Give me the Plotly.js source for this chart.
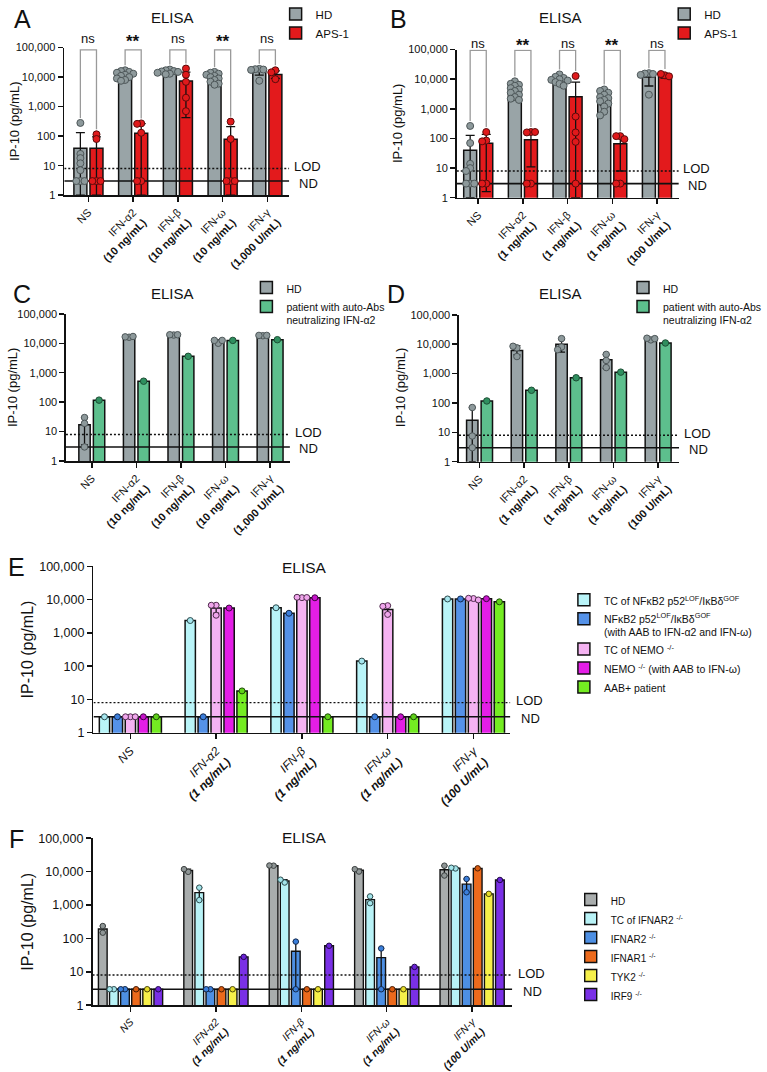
<!DOCTYPE html>
<html><head><meta charset="utf-8">
<script src="https://cdn.plot.ly/plotly-3.0.1.min.js"></script>
<style>html,body{margin:0;padding:0;background:#fff}#chart{width:767px;height:1072px}</style>
</head><body><div id="chart"></div>
<script>
const FONT = '"Liberation Sans", Arial, Helvetica, sans-serif';
const W = 767, H = 1072;
const LOD = 8, ND = 3;
const YTICKS = [1, 10, 100, 1000, 10000, 100000];
const YTICKTEXT = ['1', '10', '100', '1,000', '10,000', '100,000'];
const CATS = ['NS', 'IFN-α2', 'IFN-β', 'IFN-ω', 'IFN-γ'];
const DOSE_HIGH = ['', '(10 ng/mL)', '(10 ng/mL)', '(10 ng/mL)', '(1,000 U/mL)'];
const DOSE_LOW = ['', '(1 ng/mL)', '(1 ng/mL)', '(1 ng/mL)', '(100 U/mL)'];

// ---------- Panel A (10 ng/mL) ----------
const seriesA = ['HD', 'APS-1'];
const hdBarA = [39, 11000, 14700, 9500, 15900];
const hdHiA = [131, 14500, 16500, 12000, 19000];
const hdLoA = [1, 8500, 13000, 7500, 11700];
const hdPtsA = [
  [280, 25, 18, 12, 7, 3, 3, 3],
  [17000, 16000, 15000, 14000, 13000, 12000, 11000, 10000, 9000, 8000, 7500],
  [18000, 17000, 16000, 15500, 15000, 14000, 13000, 12500],
  [15000, 14000, 13000, 12000, 11000, 10000, 9000, 8000, 7000, 6000, 5500],
  [19000, 18500, 18000, 17500, 7500]
];
const apsBarA = [39, 124, 7300, 78, 12300];
const apsHiA = [95, 265, 14700, 210, 16300];
const apsLoA = [1, 1, 420, 1, 9000];
const apsPtsA = [
  [115, 80, 3, 3, 3],
  [270, 260, 130, 3, 3],
  [19500, 12000, 6900, 2000, 700],
  [310, 80, 3, 3, 3],
  [17000, 14500, 8500]
];
const sigA = ['ns', '**', 'ns', '**', 'ns'];

// ---------- Panel B (1 ng/mL) ----------
const hdBarB = [40, 4000, 9400, 2200, 11800];
const hdHiB = [128, 6500, 12000, 3700, 15500];
const hdLoB = [1, 2600, 7000, 1300, 5900];
const hdPtsB = [
  [265, 70, 14, 10, 8, 3, 3, 3],
  [8500, 7000, 6500, 6000, 5000, 4500, 4000, 3500, 3000, 2500, 2200, 2000],
  [14500, 12000, 11000, 10000, 9500, 9000, 8000, 7000, 6000],
  [4500, 4000, 3500, 3000, 2500, 2300, 2000, 1800, 1500, 1200, 800, 600],
  [16000, 15500, 15000, 14000, 3000]
];
const apsBarB = [69, 90, 2570, 67, 12000];
const apsHiB = [138, 166, 8000, 115, 14500];
const apsLoB = [1.6, 11, 1, 8, 11000];
const apsPtsB = [
  [165, 85, 80, 3, 3],
  [165, 160, 165, 3, 3],
  [12800, 550, 160, 77, 3],
  [120, 120, 95, 3, 3],
  [13500, 15000, 12500]
];
const sigB = ['ns', '**', 'ns', '**', 'ns'];

// ---------- Panel C (10 ng/mL) ----------
const seriesC = ['HD', 'patient with auto-Abs<br>neutralizing IFN-α2'];
const hdBarC = [17, 16500, 19500, 12000, 18600];
const hdHiC = [30, 17000, 19800, 13000, 19000];
const hdLoC = [3.5, 16000, 19200, 10500, 18200];
const hdPtsC = [[30, 19, 3], [16000, 16500, 17000], [19000, 19500, 19500], [10000, 12500, 12500], [18000, 18500, 18500]];
const patBarC = [117, 515, 3600, 12500, 13200];

// ---------- Panel D (1 ng/mL) ----------
const hdBarD = [26, 6100, 10000, 2950, 15100];
const hdHiD = [70, 8900, 14500, 4400, 16000];
const hdLoD = [1, 4300, 5400, 1500, 14200];
const hdPtsD = [[70, 7.5, 3], [7500, 8500, 3800], [15500, 8000, 6500], [4500, 2800, 1600], [14000, 16000, 15500]];
const patBarD = [117, 270, 720, 1120, 11000];

// ---------- Panel E ----------
const seriesE = [
  'TC of NFκB2 p52<sup>LOF</sup>/IκBδ<sup>GOF</sup>',
  'NFκB2 p52<sup>LOF</sup>/IκBδ<sup>GOF</sup><br>(with AAB to IFN-α2 and IFN-ω)',
  'TC of NEMO <sup>-/-</sup>',
  'NEMO <sup>-/-</sup> (with AAB to IFN-ω)',
  'AAB+ patient'
];
const tcNfkbE = [3, 2360, 5700, 142, 10500];
const nfkbE = [3, 3, 3900, 3, 10500];
const tcNemoE = [3, 5650, 11800, 5050, 10500];
const tcNemoPtsE = [[3, 3, 3], [6800, 6800, 3400], [11500, 11800, 11600], [6600, 6300, 3600], [10800, 11000, 9800]];
const tcNemoHiE = [3, 7000, 11900, 6800, 11200];
const tcNemoLoE = [3, 3900, 11300, 3900, 9900];
const nemoE = [3, 5600, 11400, 3, 10700];
const aabE = [3, 18, 3, 3, 8600];

// ---------- Panel F ----------
const seriesF = ['HD', 'TC of IFNAR2 <sup>-/-</sup>', 'IFNAR2 <sup>-/-</sup>', 'IFNAR1 <sup>-/-</sup>', 'TYK2 <sup>-/-</sup>', 'IRF9 <sup>-/-</sup>'];
const hdF = [190, 10800, 15000, 10900, 11300];
const hdPtsF = [[234, 148], [9800, 11800], [15000, 15200], [10000, 11800], [15000, 7600]];
const tcIfnar2F = [3, 2350, 5200, 1450, 12700];
const tcIfnar2PtsF = [[3, 3], [3300, 1400], [4700, 5700], [1800, 1130], [12400, 13000]];
const ifnar2F = [3, 3, 41, 26.5, 4200];
const ifnar2PtsF = [[3, 3], [3, 3], [80, 3], [50, 3], [6000, 2400]];
const ifnar1F = [3, 3, 3, 3, 12500];
const tyk2F = [3, 3, 3, 3, 2150];
const irf9F = [3, 28, 60, 14, 5600];

// ---------- builders ----------
const P = px => px / W;
const Q = py => 1 - py / H;
const traces = [];
const annotations = [];
const layout = {
  width: W, height: H, margin: {l: 0, r: 0, t: 0, b: 0},
  paper_bgcolor: '#ffffff', plot_bgcolor: 'rgba(0,0,0,0)',
  showlegend: true, barmode: 'overlay',
  font: {family: FONT, color: '#111'},
  annotations: annotations
};
function ticks(doses, italic) {
  return CATS.map((c, i) => {
    const a = italic ? '<i>' + c + '</i>' : c;
    if (!doses[i]) return a;
    const b = italic ? '<i>' + doses[i] + '</i>' : doses[i];
    return a + '<br><b>' + b + '</b>';
  });
}
function single(arr) { return arr.map(v => [v]); }
function rangeHi(pts) { return pts.map(a => Math.max(...a)); }
function rangeLo(pts) { return pts.map(a => Math.min(...a)); }
function txt(x, y, text, size, opts) {
  annotations.push(Object.assign({xref: 'paper', yref: 'paper', x: P(x), y: Q(y), text: text, showarrow: false,
    xanchor: 'center', yanchor: 'middle', font: {size: size, family: FONT, color: '#111'}}, opts || {}));
}

function panel(c) {
  const s = c.n === 1 ? '' : String(c.n);
  const xa = 'x' + s, ya = 'y' + s;
  const legendId = c.n === 1 ? 'legend' : 'legend' + c.n;
  const ppu = (c.xdom[1] - c.xdom[0]) / (c.xrange[1] - c.xrange[0]);
  const ppd = (c.ydom[1] - c.ydom[0]) / 5;
  const catPx = i => c.xdom[0] + (i - c.xrange[0]) * ppu;
  const valPy = v => c.ydom[1] - Math.log10(v) * ppd;
  layout['xaxis' + s] = {
    domain: [P(c.xdom[0]), P(c.xdom[1])], range: c.xrange, anchor: ya,
    showline: true, linecolor: '#111', linewidth: 1.6, ticks: 'outside', ticklen: 5, tickwidth: 1.5, tickcolor: '#111',
    tickvals: [0, 1, 2, 3, 4], ticktext: c.ticktext, tickangle: -45,
    tickfont: {size: c.xtf, family: FONT, color: '#111'}, showgrid: false, zeroline: false, fixedrange: true
  };
  layout['yaxis' + s] = {
    domain: [Q(c.ydom[1]), Q(c.ydom[0])], type: 'log', range: [0, 5], anchor: xa,
    showline: true, linecolor: '#111', linewidth: 1.6, ticks: 'outside', ticklen: 5, tickwidth: 1.5, tickcolor: '#111',
    tickvals: YTICKS, ticktext: YTICKTEXT, tickfont: {size: c.ytf, family: FONT, color: '#111'},
    showgrid: false, zeroline: false, fixedrange: true
  };
  layout[legendId] = {
    x: P(c.leg.x), y: Q(c.leg.y), xanchor: 'left', yanchor: 'top',
    font: {size: c.leg.fs, family: FONT, color: '#111'}, bgcolor: 'rgba(0,0,0,0)', valign: 'top', tracegroupgap: 0
  };
  // bars
  c.series.forEach((sr, k) => {
    const t = {
      type: 'bar', x: [0, 1, 2, 3, 4], y: sr.bars, width: c.bw, offset: c.centers[k] - c.bw / 2,
      xaxis: xa, yaxis: ya, name: sr.name, legend: legendId,
      marker: {color: sr.color, line: {color: '#111', width: c.blw}}, hoverinfo: 'skip'
    };
    if (sr.hi) {
      t.error_y = {
        type: 'data', symmetric: false,
        array: sr.bars.map((b, i) => Math.max(0, sr.hi[i] - b)),
        arrayminus: sr.bars.map((b, i) => Math.max(0, b - sr.lo[i])),
        color: '#111', thickness: 1.3, width: c.cap
      };
    }
    traces.push(t);
  });
  // LOD / ND lines
  traces.push({type: 'scatter', mode: 'lines', x: c.xrange, y: [LOD, LOD], xaxis: xa, yaxis: ya, showlegend: false,
    line: {color: '#111', width: 1.4, dash: '2px,2px'}, hoverinfo: 'skip'});
  traces.push({type: 'scatter', mode: 'lines', x: c.xrange, y: [ND, ND], xaxis: xa, yaxis: ya, showlegend: false,
    line: {color: '#111', width: 1.6}, hoverinfo: 'skip'});
  // points (simple beeswarm)
  c.series.forEach((sr, k) => {
    const px = [], py = [];
    sr.pts.forEach((arr, i) => {
      const placed = [];
      arr.forEach(v => {
        const y = Math.log10(v) * ppd;
        for (const o of [0, -1, 1, -2, 2, -3, 3]) {
          const x = o * c.step;
          if (!placed.some(p => Math.abs(p.x - x) < c.step * 0.5 && Math.abs(p.y - y) < c.ms * 0.55) || o === 3) {
            placed.push({x, y}); px.push(i + c.centers[k] + x / ppu); py.push(v); break;
          }
        }
      });
    });
    traces.push({type: 'scatter', mode: 'markers', x: px, y: py, xaxis: xa, yaxis: ya, showlegend: false, cliponaxis: false,
      marker: {size: c.ms, color: sr.pt, line: {color: sr.ptl, width: 1}}, hoverinfo: 'skip'});
  });
  // significance brackets
  if (c.sig) {
    const pad = (c.ms / 2 + 1.5) / ppd;
    c.sig.forEach((lab, i) => {
      const l = i + c.centers[0], r = i + c.centers[1];
      const a = c.series[0], b = c.series[1];
      const topL = Math.max(...a.pts[i], a.hi[i]);
      const topR = Math.max(...b.pts[i], b.hi[i]);
      const top = Math.pow(10, c.brTop);
      traces.push({type: 'scatter', mode: 'lines', x: [l, l, r, r],
        y: [Math.pow(10, Math.log10(topL) + pad), top, top, Math.pow(10, Math.log10(topR) + pad)],
        xaxis: xa, yaxis: ya, showlegend: false, cliponaxis: false, line: {color: '#9a9a9a', width: 1.3}, hoverinfo: 'skip'});
      if (lab === 'ns') txt(catPx(i), c.nsY, 'ns', 13);
      else txt(catPx(i), c.starY, '<b>' + lab + '</b>', 17);
    });
  }
  // texts
  txt(c.letter[0], c.letter[1], c.letter[2], 25);
  txt(c.title[0], c.title[1], 'ELISA', c.titleFs);
  txt(c.ytitle[0], c.ytitle[1], 'IP-10 (pg/mL)', c.ytitleFs, {textangle: -90});
  txt(c.lodX, valPy(LOD) - 2, 'LOD', 13, {xanchor: 'left'});
  txt(c.ndX, valPy(ND) + 2, 'ND', 13, {xanchor: 'left'});
}

const HD_GRAY = '#99a4a7', HD_PT = '#8d999b', HD_PTL = '#4d5658';
const RED = '#e31a1c', RED_PT = '#e0191b', RED_PTL = '#5a0b0b';
const GREEN = '#5dbf8d', GREEN_PT = '#2f8f5f', GREEN_PTL = '#1d4f35';
const abGeom = {bw: 0.29, centers: [-0.18, 0.18], ms: 7, step: 4.2, cap: 4.5, blw: 1.5, xtf: 11, ytf: 11, titleFs: 15, ytitleFs: 13};
const cdGeom = {bw: 0.255, centers: [-0.163, 0.163], ms: 6.5, step: 4, cap: 3.5, blw: 1.5, xtf: 11, ytf: 11, titleFs: 15, ytitleFs: 13};

panel(Object.assign({}, abGeom, {
  n: 1, xdom: [66, 297], ydom: [44.7, 192.7], xrange: [-0.54, 4.49], ticktext: ticks(DOSE_HIGH, false),
  series: [
    {name: seriesA[0], bars: hdBarA, hi: hdHiA, lo: hdLoA, pts: hdPtsA, color: HD_GRAY, pt: HD_PT, ptl: HD_PTL},
    {name: seriesA[1], bars: apsBarA, hi: apsHiA, lo: apsLoA, pts: apsPtsA, color: RED, pt: RED_PT, ptl: RED_PTL}
  ],
  sig: sigA, brTop: 4.92, nsY: 36, starY: 39,
  letter: [23, 16, 'A'], title: [177, 15], ytitle: [15, 118.7], lodX: 300, ndX: 305,
  leg: {x: 283, y: -3, fs: 11.5}
}));
panel(Object.assign({}, abGeom, {
  n: 2, xdom: [469, 697], ydom: [46.7, 195.3], xrange: [-0.48, 4.49], ticktext: ticks(DOSE_LOW, false),
  series: [
    {name: seriesA[0], bars: hdBarB, hi: hdHiB, lo: hdLoB, pts: hdPtsB, color: HD_GRAY, pt: HD_PT, ptl: HD_PTL},
    {name: seriesA[1], bars: apsBarB, hi: apsHiB, lo: apsLoB, pts: apsPtsB, color: RED, pt: RED_PT, ptl: RED_PTL}
  ],
  sig: sigB, brTop: 4.97, nsY: 40.5, starY: 43,
  letter: [409, 16, 'B'], title: [576, 15], ytitle: [408, 121], lodX: 699, ndX: 704,
  leg: {x: 682, y: -3, fs: 11.5}
}));
panel(Object.assign({}, cdGeom, {
  n: 3, xdom: [67.7, 297.7], ydom: [311.7, 459.3], xrange: [-0.58, 4.445], ticktext: ticks(DOSE_HIGH, false),
  series: [
    {name: seriesC[0], bars: hdBarC, hi: hdHiC, lo: hdLoC, pts: hdPtsC, color: HD_GRAY, pt: HD_PT, ptl: HD_PTL},
    {name: seriesC[1], bars: patBarC, pts: single(patBarC), color: GREEN, pt: GREEN_PT, ptl: GREEN_PTL}
  ],
  letter: [23, 292, 'C'], title: [177, 291], ytitle: [13, 385.5], lodX: 301, ndX: 305,
  leg: {x: 253, y: 272, fs: 10.5}
}));
panel(Object.assign({}, cdGeom, {
  n: 4, xdom: [471.3, 697.3], ydom: [312.7, 460], xrange: [-0.46, 4.47], ticktext: ticks(DOSE_LOW, false),
  series: [
    {name: seriesC[0], bars: hdBarD, hi: hdHiD, lo: hdLoD, pts: hdPtsD, color: HD_GRAY, pt: HD_PT, ptl: HD_PTL},
    {name: seriesC[1], bars: patBarD, pts: single(patBarD), color: GREEN, pt: GREEN_PT, ptl: GREEN_PTL}
  ],
  letter: [407, 292, 'D'], title: [576, 291], ytitle: [412, 386], lodX: 700, ndX: 705,
  leg: {x: 640, y: 272, fs: 10.5}
}));
const eCenters = [-2, -1, 0, 1, 2].map(k => k * 0.151);
panel({
  n: 5, xdom: [96, 524], ydom: [565, 731.7], xrange: [-0.43, 4.43], ticktext: ticks(DOSE_LOW, true),
  bw: 0.12, centers: eCenters, ms: 6, step: 5, cap: 3, blw: 1.5, xtf: 12, ytf: 12.5, titleFs: 15.5, ytitleFs: 16,
  series: [
    {name: seriesE[0], bars: tcNfkbE, pts: single(tcNfkbE), color: '#b9f4f8', pt: '#a6e6ee', ptl: '#2c4a4d'},
    {name: seriesE[1], bars: nfkbE, pts: single(nfkbE), color: '#5592e8', pt: '#3d7fdc', ptl: '#13284a'},
    {name: seriesE[2], bars: tcNemoE, hi: tcNemoHiE, lo: tcNemoLoE, pts: tcNemoPtsE, color: '#f5b3f2', pt: '#f0a6ec', ptl: '#4d2a4b'},
    {name: seriesE[3], bars: nemoE, pts: single(nemoE), color: '#e41ee6', pt: '#c814cc', ptl: '#3f0640'},
    {name: seriesE[4], bars: aabE, pts: single(aabE), color: '#74ec22', pt: '#5fd11a', ptl: '#1f4a08'}
  ],
  letter: [17, 566, 'E'], title: [313, 566], ytitle: [28, 648], lodX: 528, ndX: 533,
  leg: {x: 579, y: 585, fs: 10.5}
});
const fCenters = [-2.5, -1.5, -0.5, 0.5, 1.5, 2.5].map(k => k * 0.13);
panel({
  n: 6, xdom: [95, 526], ydom: [837.5, 1005], xrange: [-0.445, 4.47], ticktext: ticks(DOSE_LOW, true),
  bw: 0.102, centers: fCenters, ms: 5.5, step: 4.3, cap: 3, blw: 1.4, xtf: 10.5, ytf: 12.5, titleFs: 15.5, ytitleFs: 16,
  series: [
    {name: seriesF[0], bars: hdF, hi: rangeHi(hdPtsF), lo: rangeLo(hdPtsF), pts: hdPtsF, color: '#a9adad', pt: '#8f9696', ptl: '#3a3f3f'},
    {name: seriesF[1], bars: tcIfnar2F, hi: rangeHi(tcIfnar2PtsF), lo: rangeLo(tcIfnar2PtsF), pts: tcIfnar2PtsF, color: '#b8f2f6', pt: '#a3e4ea', ptl: '#2c4a4d'},
    {name: seriesF[2], bars: ifnar2F, hi: rangeHi(ifnar2PtsF), lo: rangeLo(ifnar2PtsF), pts: ifnar2PtsF, color: '#4d8fe3', pt: '#3b7fdb', ptl: '#13284a'},
    {name: seriesF[3], bars: ifnar1F, pts: single(ifnar1F), color: '#ec6a1c', pt: '#d85a10', ptl: '#4a1d04'},
    {name: seriesF[4], bars: tyk2F, pts: single(tyk2F), color: '#f6f04a', pt: '#e6dc2a', ptl: '#4a4608'},
    {name: seriesF[5], bars: irf9F, pts: single(irf9F), color: '#7a30e6', pt: '#6a22d6', ptl: '#220a4a'}
  ],
  letter: [17, 838, 'F'], title: [313, 837], ytitle: [28, 921], lodX: 530, ndX: 535,
  leg: {x: 586, y: 886, fs: 10}
});

Plotly.newPlot('chart', traces, layout, {staticPlot: true, displayModeBar: false});
</script>
</body></html>
